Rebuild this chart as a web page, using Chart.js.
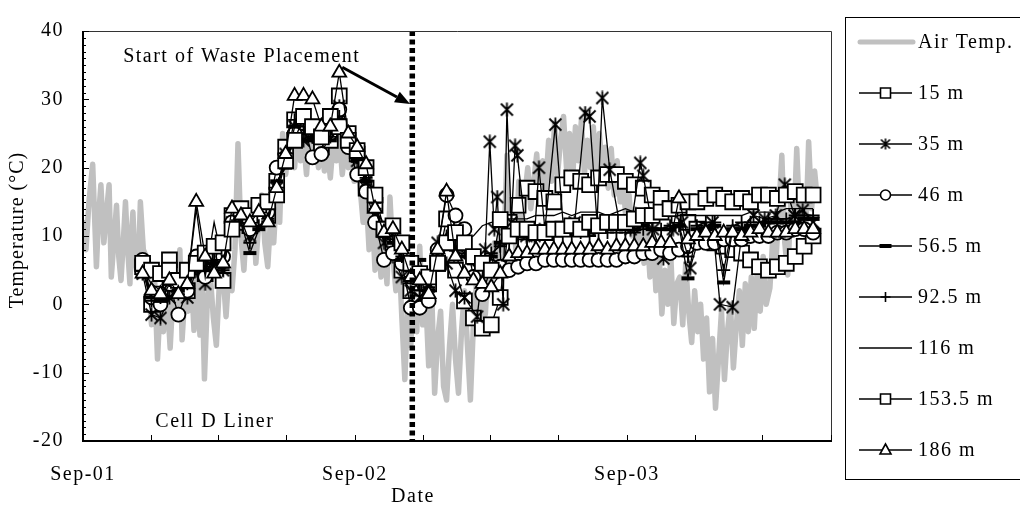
<!DOCTYPE html>
<html>
<head>
<meta charset="utf-8">
<script src="https://cdn.jsdelivr.net/npm/chart.js@4.4.0/dist/chart.umd.min.js"></script>
<style>
  html, body { margin: 0; padding: 0; background: #fff; }
  #wrap { width: 1020px; height: 512px; }
</style>
</head>
<body>
<div id="wrap"><canvas id="liner" width="1020" height="512"></canvas></div>
<script>
// days counted from 1 Sep 2001
const xTickDays   = [0, 91, 181, 273, 365, 456, 546, 638, 730, 821, 912, 1004];
const xTickLabels = ['Sep-01', '', '', '', 'Sep-02', '', '', '', 'Sep-03', '', '', ''];
const wasteDay = 442;

// air temperature
const airDays = [0,4,8,13,18,21,24,28,32,35,38,42,45,48,51,54,57,60,63,65,67,70,74,77,81,85,88,92,96,100,104,108,112,117,121,125,130,133,137,141,145,149,153,157,160,163,167,171,175,179,183,187,192,196,200,204,208,212,216,220,224,228,232,236,240,244,248,252,256,260,264,268,272,276,280,284,288,292,296,300,304,308,312,316,320,324,328,332,336,340,344,348,352,356,360,364,368,372,376,380,384,388,392,396,400,404,408,412,416,420,424,428,432,436,440,444,448,452,456,460,464,468,472,476,480,484,488,492,496,500,504,508,512,516,520,524,528,532,536,540,544,548,552,556,560,564,569,573,577,581,585,589,593,597,601,605,609,613,617,621,625,629,633,637,641,645,649,653,657,661,665,669,673,677,681,685,689,693,697,701,705,709,713,717,721,725,729,733,737,741,745,749,753,757,761,765,769,773,777,781,785,789,793,797,801,805,809,813,817,821,825,829,833,837,841,845,849,853,857,861,865,869,873,877,881,885,889,893,897,901,905,909,913,917,922,926,930,934,938,942,946,950,954,958,962,966,970,974,978,982,985];
const airTemp = [12,8,15,20.5,5.5,13,17.5,9,14,17.5,4,10,14.5,7,3.5,9,15,8,3,10,13.5,6,4,15,8,7,2,-3,4,-8,1,-4,3,-6.4,2,-2,8,-5.2,2,-1,5,-3.8,4,-4.5,3,-10.9,1,4,-2,-6,3,6,-1.8,5,2,8,23.5,10,5,13,8,15,6,12,16,9,5.5,13,9,17,12,25,19,23,25,20,26,21,24,19,25,22,26,20,24,19.5,23,18.5,24,21,25,19,23,20,22,18,21,17,12,16,8,14,5,11,4,9,3,15.7,7,2,8,-2,-11,0,-6,3,-4,8.5,-3,1,-9,2,-13,-5,-1,-12,-14,-6,0,-8,-13,-4,2,-6,-14,-3,3,-4,4,-1.5,6,2,9,4,12,5,21.8,10,15,8,18,12,16,20,14,18,22,15,21,17,24,18,26.5,19,24,27.5,20,25,18,26,21,27,19,24,20,26,18,25,20,23,17,22.8,16,21,15,18,12,16,10,14,8,13,6,11,4,10,2,8,-1.4,5,0,7,-2.8,3,4,-3,6,-1,-5.6,2,-4,0,-8,-2,-12.8,-5,-15.2,-8,-1,-11,-4,0,-9.3,-3,2,-6,3,-4,4,-3.5,5,-1,7,0,2.4,10,6,14,21.8,9,4.3,15,11,22.8,12,16,10,23.8,14,19.5,16];

// sensor readings (shared sampling days)
const sensorDays = [80,92,104,116,128,140,152,164,176,188,200,212,224,236,248,260,272,284,296,308,320,332,344,356,368,380,392,404,416,428,440,452,464,476,488,500,512,524,536,548,560,572,584,596,608,620,632,644,656,668,680,692,704,716,728,740,752,764,776,788,800,812,824,836,848,860,872,884,896,908,920,932,944,956,968,980];
const t15 = [5.5,0,1.5,6.5,3,2,5.5,4.5,6,3.5, 13,12,11.5,12.5,13, 18,23,27,26,25,23,24,30.5,25, 22,17,14.5,11,9,5,2, 1,3,6,12.5,5,0.5,-2,-3.5,-3, 1,12,14.5,17,16.5,15.5,15,17.5,18.5,18,17.5,18.5,19,19,18, 17.5,17,16,15.5,14,13,12,11,10,9,8.5,8,7.5,6.5,5.5,5,5.5,6,7,8.5,10];
const t46 = [6.5,1,0,3,-1.5,2,7,4,7.5,7, 12,12.5,11,12.5,13.5, 20,21.5,25,26.5,21.5,22,25,28.5,23, 19,16.5,12,6.5,7.5,6,-0.5, -0.5,0.5,8,16,13,11,4,1.5,5.5, 5.5,5,5.5,6,6,6.5,6.5,6.5,6.5,6.5,6.5,6.5,6.5,6.5,7, 7,7.5,7.5,8,7.5,8,8.5,9,9,9,9.5,9.5,9.5,10,10,10,10.5,10.5,11,11,10.5];
const t56 = [5,1,0.5,3,2,2.5,5.5,5,6,5.5, 11,12,7.5,11,12, 18,20,26,27,24,25,24,27,24.5, 21,18,15,10,9,6.5,5, 6.5,2,7,9,8,7,6,5.5,7, 9,9.5,10,10,10,10.5,10.5,10.5,10.5,11,10.5,11,11,11,11, 11,11.5,11,11,11,11.5,3.8,11,11,11.5,3.2,11,11,11.5,11.5,12,12,12,12,12.5,12.5];
const t92 = [5,0.5,1,3.5,1.5,3,6,5.5,6.5,5, 11.5,12.5,9,11.5,12.5, 17,21,27,26,24.5,25.5,24.5,27.5,24, 21.5,18.5,14,10,9.5,7,4, 2,2.5,7.5,10,8.5,7.5,6.5,6,7.5, 8.5,9,9.5,9.5,9.5,10,10,10,10,10.5,10,10.5,10.5,10.5,10.5, 10.5,11,11,11,11.5,11.5,7,11.5,12,12,5,11.5,12,12,12,12.5,12.5,12.5,13,13,13];
const t116 = [5,3,2,4,2,3,14,4,12,6, 12,13,12,13,13, 17,22,25,25,24,25,24,26,24, 21,18,14,10,9,7,4, 3,4,8,10.5,10,9.5,10,11.5,12, 12,12.5,12.5,12.5,13,13,13,13.5,13,13.5,13.5,13.5,13,13.5,14, 13.5,13.5,13.5,13.5,13,13,13,13,13,13,13,13,13,13.5,13.5,13.5,13.5,14,14,14,14];
const t153 = [6,5,4.5,5,3.5,5,6,7.5,8.5,9, 11,14,13,14.5,15, 16,21,24,27.5,26,24.5,27.5,26,24, 22.5,20,16,11,11.5,9,6, 4.5,4,6,9,10.5,9,7,6,5, 12.4,10,11,11,10.5,10.5,11,11,11.5,11,12,11.5,12,12,12, 12.5,13,13,13.5,14,14.5,15,15,15.5,16,15.5,15,15.5,15,16,16,15.5,16,16.5,16,16];
const t186 = [4.5,2,1.5,3.5,1.5,3,15,7,4.5,6, 14,13,12,13.5,12, 17,22,30.5,30.5,30,26,26,33.9,25, 23,20.5,14,10.5,11,8,4, 3.5,1.5,8,16.5,7,4.5,3.5,3,2.5, 4.5,7,7.5,7.5,8,8,8,8,8,8,8,8.5,8,8.5,8.5, 8.5,8.5,9,9,9,15.5,9.5,10,10.5,10,10.5,10.5,10,10.5,11,10.5,10.5,10.5,11,11,11];

// 35 m logger has its own sampling days (spiky record)
const t35Days = [80,92,104,116,128,140,152,164,176,188,200,212,224,236,248,260,272,284,296,308,320,332,344,356,368,380,392,404,416,428,440,452,464,476,488,500,512,529,540,546,552,556,564,569,575,580,583,595,606,612,620,634,645,660,674,680,690,697,707,720,735,748,752,765,779,792,804,815,830,845,855,872,885,900,915,930,942,955,966,980];
const t35 = [4.5,-1.5,-2,1,2,1,5,3,6,5,12,13,10,12.5,13,17,22,26,24,24.5,26,25,29,24,21,18,13,9,7,4,2,1,3,9,6,2,1,-1.8,8,23.8,11,15.7,0,28.5,12,23.2,21.8,10,10,20,11,26.3,11,12,28,27.5,12,30.2,19.7,12,11,20.7,18.8,11,6.7,11,12,5.3,11,12,0,-0.4,11,13,12.5,13,17.5,13,13.8,12];

const FONT = "'Liberation Serif', 'Times New Roman', serif";
const SIZE = 20;
const SPACING = '1.5px';

function pts(days, vals) {
  return days.map((d, i) => ({ x: d, y: vals[i] }));
}

function asteriskImage(size, lw) {
  const c = document.createElement('canvas');
  c.width = size; c.height = size;
  const g = c.getContext('2d');
  g.strokeStyle = '#000';
  g.lineWidth = lw;
  const m = 1.5, h = size / 2;
  g.beginPath();
  g.moveTo(m, m); g.lineTo(size - m, size - m);
  g.moveTo(size - m, m); g.lineTo(m, size - m);
  g.moveTo(h, 0.5); g.lineTo(h, size - 0.5);
  g.stroke();
  return c;
}

const starPlot = asteriskImage(15, 1.8);
const starLegend = asteriskImage(12, 1.6);

function sensor(label, days, vals, order, pointStyle, radius, pbw) {
  return {
    label: label,
    data: pts(days, vals),
    order: order,
    borderColor: '#000',
    borderWidth: 1.3,
    pointStyle: pointStyle,
    pointRadius: radius,
    pointBackgroundColor: '#fff',
    pointBorderColor: '#000',
    pointBorderWidth: pbw,
    tension: 0
  };
}

const legendRows = [
  { label: 'Air Temp.', kind: 'air' },
  { label: '15 m', kind: 'square' },
  { label: '35 m', kind: 'star' },
  { label: '46 m', kind: 'circle' },
  { label: '56.5 m', kind: 'bar' },
  { label: '92.5 m', kind: 'plus' },
  { label: '116 m', kind: 'none' },
  { label: '153.5 m', kind: 'square' },
  { label: '186 m', kind: 'triangle' }
];

function legendMarker(ctx, kind, x, y) {
  ctx.save();
  ctx.strokeStyle = '#000';
  ctx.fillStyle = '#fff';
  ctx.lineWidth = 1.6;
  ctx.beginPath();
  if (kind === 'square') {
    ctx.rect(x - 5, y - 5, 10, 10); ctx.fill(); ctx.stroke();
  } else if (kind === 'circle') {
    ctx.arc(x, y, 5, 0, Math.PI * 2); ctx.fill(); ctx.stroke();
  } else if (kind === 'triangle') {
    ctx.moveTo(x, y - 6); ctx.lineTo(x + 5.5, y + 4); ctx.lineTo(x - 5.5, y + 4); ctx.closePath();
    ctx.fill(); ctx.stroke();
  } else if (kind === 'plus') {
    ctx.moveTo(x - 5, y); ctx.lineTo(x + 5, y); ctx.moveTo(x, y - 5); ctx.lineTo(x, y + 5); ctx.stroke();
  } else if (kind === 'bar') {
    ctx.fillStyle = '#000'; ctx.fillRect(x - 6, y - 2, 12, 4);
  } else if (kind === 'star') {
    ctx.drawImage(starLegend, x - 6, y - 6);
  }
  ctx.restore();
}

const decor = {
  id: 'decor',
  beforeDraw(chart) {
    chart.ctx.letterSpacing = SPACING;
  },
  afterDatasetsDraw(chart) {
    const { ctx, chartArea: a, scales: { x, y } } = chart;
    ctx.save();
    // start of waste placement
    const px = x.getPixelForValue(wasteDay);
    ctx.strokeStyle = '#000';
    ctx.lineWidth = 5.5;
    ctx.setLineDash([5, 3.5]);
    ctx.beginPath(); ctx.moveTo(px, a.top); ctx.lineTo(px, a.bottom); ctx.stroke();
    ctx.setLineDash([]);

    // frame
    ctx.lineWidth = 1;
    ctx.strokeStyle = '#333';
    ctx.beginPath();
    ctx.moveTo(a.left, a.top + 0.5); ctx.lineTo(a.right + 0.5, a.top + 0.5); ctx.lineTo(a.right + 0.5, a.bottom);
    ctx.stroke();
    ctx.strokeStyle = '#000';
    ctx.lineWidth = 2;
    ctx.beginPath();
    ctx.moveTo(a.left, a.top); ctx.lineTo(a.left, a.bottom); ctx.lineTo(a.right + 1, a.bottom);
    ctx.stroke();

    // inward tick marks
    ctx.lineWidth = 1;
    ctx.beginPath();
    for (let v = -20; v <= 40; v++) {
      const py = Math.round(y.getPixelForValue(v)) + 0.5;
      const len = v % 10 === 0 ? 6 : 3;
      ctx.moveTo(a.left, py); ctx.lineTo(a.left + len, py);
    }
    xTickDays.forEach(d => {
      const tx = Math.round(x.getPixelForValue(d)) + 0.5;
      ctx.moveTo(tx, a.bottom); ctx.lineTo(tx, a.bottom - 6);
    });
    ctx.stroke();

    // arrow
    const x0 = x.getPixelForValue(348), y0 = y.getPixelForValue(34.7);
    const x1 = x.getPixelForValue(wasteDay - 3), y1 = y.getPixelForValue(29.3);
    const ang = Math.atan2(y1 - y0, x1 - x0);
    const hl = 15, hw = 6;
    const bx = x1 - Math.cos(ang) * hl, by = y1 - Math.sin(ang) * hl;
    ctx.lineWidth = 3;
    ctx.beginPath(); ctx.moveTo(x0, y0); ctx.lineTo(bx, by); ctx.stroke();
    ctx.fillStyle = '#000';
    ctx.beginPath();
    ctx.moveTo(x1, y1);
    ctx.lineTo(bx - Math.sin(ang) * hw, by + Math.cos(ang) * hw);
    ctx.lineTo(bx + Math.sin(ang) * hw, by - Math.cos(ang) * hw);
    ctx.closePath(); ctx.fill();

    // notes
    ctx.font = SIZE + 'px ' + FONT;
    ctx.letterSpacing = SPACING;
    ctx.textAlign = 'center';
    ctx.textBaseline = 'middle';
    ctx.fillText('Start of Waste Placement', x.getPixelForValue(213), y.getPixelForValue(36.3));
    ctx.fillText('Cell D Liner', x.getPixelForValue(177), y.getPixelForValue(-17.2));
    ctx.restore();
  },
  afterDraw(chart) {
    const { ctx, chartArea: a } = chart;
    ctx.save();
    ctx.font = SIZE + 'px ' + FONT;
    ctx.letterSpacing = SPACING;
    ctx.fillStyle = '#000';
    ctx.textBaseline = 'middle';
    ctx.textAlign = 'center';
    ctx.fillText('Date', 413, 497);
    ctx.save();
    ctx.translate(18, 230);
    ctx.rotate(-Math.PI / 2);
    ctx.letterSpacing = '1px';
    ctx.fillText('Temperature (\u00B0C)', 0, 0);
    ctx.restore();

    // legend box
    ctx.strokeStyle = '#000';
    ctx.lineWidth = 1;
    ctx.strokeRect(845.5, 17.5, 200, 462);
    ctx.textAlign = 'left';
    legendRows.forEach((r, i) => {
      const ly = 42 + i * 51;
      ctx.beginPath();
      if (r.kind === 'air') {
        ctx.strokeStyle = '#c0c0c0'; ctx.lineWidth = 5; ctx.lineCap = 'round';
        ctx.moveTo(860, ly); ctx.lineTo(913, ly);
      } else {
        ctx.strokeStyle = '#000'; ctx.lineWidth = 1.3; ctx.lineCap = 'butt';
        ctx.moveTo(859, ly); ctx.lineTo(912, ly);
      }
      ctx.stroke();
      legendMarker(ctx, r.kind, 885.5, ly);
      ctx.fillStyle = '#000';
      ctx.fillText(r.label, 918, ly + 1);
    });
    ctx.restore();
  }
};

new Chart(document.getElementById('liner'), {
  type: 'line',
  data: {
    datasets: [
      {
        label: 'Air Temp.',
        data: pts(airDays, airTemp),
        order: 9,
        borderColor: '#c0c0c0',
        borderWidth: 5.5,
        borderCapStyle: 'round',
        borderJoinStyle: 'round',
        pointRadius: 0,
        tension: 0
      },
      sensor('15 m', sensorDays, t15, 8, 'rect', 10.5, 1.8),
      sensor('35 m', t35Days, t35, 7, starPlot, 7.5, 1.8),
      sensor('46 m', sensorDays, t46, 6, 'circle', 7, 1.8),
      sensor('56.5 m', sensorDays, t56, 5, 'line', 6.5, 4),
      sensor('92.5 m', sensorDays, t92, 4, 'cross', 6.5, 1.8),
      sensor('116 m', sensorDays, t116, 3, 'circle', 0, 0),
      sensor('153.5 m', sensorDays, t153, 2, 'rect', 10.5, 1.8),
      sensor('186 m', sensorDays, t186, 1, 'triangle', 8, 1.8)
    ]
  },
  options: {
    responsive: false,
    animation: false,
    devicePixelRatio: 1,
    layout: { padding: { top: 19, right: 189, left: 0, bottom: 0 } },
    plugins: { legend: { display: false }, tooltip: { enabled: false } },
    events: [],
    scales: {
      x: {
        type: 'linear',
        min: 0,
        max: 1004,
        grid: { display: false, drawTicks: false },
        border: { display: false },
        afterBuildTicks: s => { s.ticks = xTickDays.map(v => ({ value: v })); },
        afterFit: s => { s.height = 71; },
        ticks: {
          autoSkip: false,
          maxRotation: 0,
          padding: 22,
          color: '#000',
          font: { family: FONT, size: SIZE },
          callback: (v, i) => xTickLabels[i]
        }
      },
      y: {
        min: -20,
        max: 40,
        grid: { display: false, drawTicks: false },
        border: { display: false },
        afterFit: s => { s.width = 83; },
        ticks: {
          stepSize: 10,
          padding: 19,
          color: '#000',
          font: { family: FONT, size: SIZE },
          callback: v => String(v)
        }
      }
    }
  },
  plugins: [decor]
});
</script>
</body>
</html>
